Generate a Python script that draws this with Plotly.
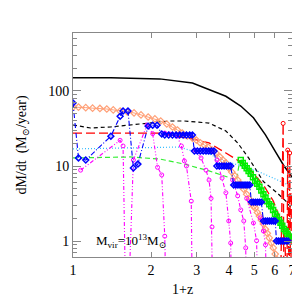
import plotly.graph_objects as go
import math

# ---- data ----
black_x = [1.00, 1.40, 2.16, 2.89, 3.89, 4.44, 4.97, 5.53, 6.08, 6.52, 6.92, 7.0]
black_y = [150, 150, 145, 128, 85, 63, 44, 26, 15, 10, 7.6, 7.0]

bdash_x = [1.00, 1.07, 1.17, 1.40, 1.66, 1.98, 2.36, 2.69, 3.35, 3.89, 4.32, 4.76, 5.43, 6.08, 6.63, 6.92]
bdash_y = [35.2, 34.1, 32.1, 33.2, 35.2, 37.4, 39.8, 39.8, 37.4, 29.3, 20.3, 12.8, 6.2, 4.5, 3.4, 2.8]

red_x = [1.00, 1.40, 2.16, 2.89, 3.35, 3.89, 4.36, 4.88, 5.43, 5.93, 6.30, 6.57, 6.70]
red_y = [27.5, 27.5, 27.5, 22.9, 20.3, 14.9, 11.7, 8.6, 5.6, 3.4, 2.0, 1.1, 0.1]

red2_x = [6.30, 6.47, 6.52, 6.68, 6.74, 6.79, 6.83, 6.86, 6.92, 6.96]
red2_y = [0.1, 37.0, 0.1, 0.1, 16.3, 0.1, 0.1, 14.9, 0.1, 4.0]

cyan_x = [1.00, 1.66, 2.58, 2.81, 3.35, 3.76, 4.36, 5.05, 5.93, 6.92]
cyan_y = [16.9, 17.4, 17.9, 16.3, 14.5, 12.0, 10.3, 8.8, 6.9, 5.4]

gdash_x = [1.00, 1.66, 2.16, 2.69, 3.35, 4.28, 4.40]
gdash_y = [12.8, 13.2, 12.4, 10.6, 8.6, 6.5, 12.0]

lime_x = [4.44, 4.52, 4.60, 4.68, 4.76, 4.85, 4.95, 5.05, 5.14, 5.24, 5.33, 5.43, 5.53,
          5.62, 5.72, 5.82, 5.92, 6.02, 6.12, 6.22, 6.32, 6.42, 6.52, 6.62, 6.72, 6.82, 6.92]
lime_y = [12.0, 11.0, 10.1, 9.3, 8.6, 7.9, 7.1, 6.3, 5.8, 5.3, 4.7, 4.2, 3.8,
          3.4, 3.1, 2.9, 2.6, 2.3, 2.1, 1.9, 1.75, 1.6, 1.45, 1.35, 1.25, 1.15, 1.05]

orange_x = [1.00, 1.05, 1.12, 1.19, 1.27, 1.35, 1.43, 1.52, 1.62, 1.72, 1.83, 1.95, 2.07,
            2.18, 2.30, 2.42, 2.53, 2.64, 2.76, 2.89, 2.99, 3.10, 3.21, 3.32, 3.44, 3.56,
            3.69, 3.79, 3.89, 3.99, 4.10, 4.21, 4.32, 4.44, 4.56, 4.68, 4.80, 4.88, 4.97,
            5.05, 5.15, 5.24, 5.33, 5.43, 5.53, 5.62, 5.72, 5.82, 5.93, 6.03, 6.14]
orange_y = [61, 61, 60, 59, 58.5, 57.5, 56, 54, 52.5, 51, 48, 45, 42.4,
            39.8, 36.3, 33.1, 30.2, 27.5, 25.1, 23.6, 22.2, 20.3, 19.1, 17.9, 16.3, 14.9,
            13.2, 12.0, 11.0, 9.4, 8.3, 7.4, 6.5, 5.7, 4.9, 4.2, 3.6, 3.2, 2.9,
            2.76, 2.4, 2.15, 1.9, 1.69, 1.43, 1.27, 1.10, 0.94, 0.81, 0.67, 0.56]

blue_x = [1.00, 1.05, 1.12, 1.40, 1.52, 1.56, 1.63, 1.71, 1.78, 1.95, 2.03, 2.11, 2.20,
          2.26, 2.34, 2.42, 2.50, 2.58, 2.66, 2.74, 2.82, 2.89,
          2.94, 3.02, 3.10, 3.18, 3.26, 3.34, 3.42, 3.50,
          3.59, 3.67, 3.75, 3.83, 3.91, 3.99, 4.06,
          4.17, 4.25, 4.33, 4.41, 4.49, 4.57, 4.65, 4.73, 4.81,
          4.88, 4.97, 5.06, 5.15, 5.24, 5.33,
          5.43, 5.53, 5.63, 5.73, 5.83, 5.93, 6.03,
          6.10, 6.21, 6.32, 6.43, 6.54, 6.65, 6.76]
blue_y = [69, 12.8, 12.0, 25, 46, 54, 54, 9.4, 10.6, 34, 35, 35, 26.7,
          25.9, 25.9, 25.9, 25.9, 25.9, 25.9, 25.9, 25.9, 25.9,
          15.8, 15.8, 15.8, 15.8, 15.8, 15.8, 15.8, 15.8,
          10.0, 10.0, 10.0, 10.0, 10.0, 10.0, 10.0,
          5.6, 5.6, 5.6, 5.6, 5.6, 5.6, 5.6, 5.6, 5.6,
          3.3, 3.3, 3.3, 3.3, 3.3, 3.3,
          1.85, 1.85, 1.85, 1.85, 1.85, 1.85, 1.85,
          1.0, 1.0, 1.0, 1.0, 1.0, 1.0, 1.0]

# magenta progenitor branches
mag_branches = [
    ([1.07, 1.52, 1.56, 1.60], [8.8, 22.0, 18.5, 0.1]),
    ([1.63, 1.71, 1.93, 2.03, 2.12, 2.20, 2.26, 2.29], [0.1, 12.0, 35.2, 27.0, 9.6, 7.6, 1.16, 0.1]),
    ([2.26, 2.36, 2.51, 2.62, 2.69, 2.74, 2.86, 2.89], [27.5, 26.7, 25.9, 18.5, 11.7, 10.0, 3.4, 0.1]),
    ([2.96, 3.12, 3.26, 3.35, 3.41, 3.44, 3.47], [16.3, 12.8, 8.8, 6.5, 3.7, 1.54, 0.1]),
    ([3.59, 3.76, 3.89, 3.99, 4.06, 4.10], [12.0, 6.9, 4.4, 1.85, 0.94, 0.1]),
    ([4.13, 4.32, 4.44, 4.56, 4.64, 4.68], [6.5, 4.0, 2.6, 1.85, 0.81, 0.1]),
    ([4.68, 4.97, 5.11, 5.19], [3.7, 1.74, 1.01, 0.1]),
    ([5.28, 5.43, 5.53, 5.62], [2.04, 1.36, 0.89, 0.1]),
]

xtick_vals = [1, 2, 3, 4, 5, 6, 7]
ytick_vals = [1, 10, 100]
yminor_vals = [0.7, 0.8, 0.9, 2, 3, 4, 5, 6, 7, 8, 9,
               20, 30, 40, 50, 60, 70, 80, 90, 200, 300, 400, 500]

# ---- figure ----
fig = go.Figure()

fig.add_trace(go.Scatter(x=black_x, y=black_y, mode="lines",
                         line=dict(color="black", width=1.5)))
fig.add_trace(go.Scatter(x=bdash_x, y=bdash_y, mode="lines",
                         line=dict(color="black", width=1.2, dash="4px,3px")))
fig.add_trace(go.Scatter(x=cyan_x, y=cyan_y, mode="lines",
                         line=dict(color="#33bbff", width=1.2, dash="1px,2px")))
fig.add_trace(go.Scatter(x=gdash_x, y=gdash_y, mode="lines",
                         line=dict(color="#33ee33", width=1.2, dash="5px,3px")))
fig.add_trace(go.Scatter(x=red_x, y=red_y, mode="lines",
                         line=dict(color="red", width=1.3, dash="9px,4px")))
fig.add_trace(go.Scatter(x=red2_x, y=red2_y, mode="lines+markers",
                         line=dict(color="red", width=1.3, dash="9px,4px"),
                         marker=dict(symbol="circle-open", size=4, color="red")))
fig.add_trace(go.Scatter(x=orange_x, y=orange_y, mode="lines+markers",
                         line=dict(color="#ffa077", width=1),
                         marker=dict(symbol="diamond-open", size=5, color="#ffa077",
                                     line=dict(width=1.2))))
fig.add_trace(go.Scatter(x=lime_x, y=lime_y, mode="lines+markers",
                         line=dict(color="#00ee00", width=2),
                         marker=dict(symbol="square-open", size=5, color="#00ee00",
                                     line=dict(width=1.5))))
for mx, my in mag_branches:
    fig.add_trace(go.Scatter(x=mx, y=my, mode="lines+markers",
                             line=dict(color="#ff00ff", width=1.1,
                                       dash="4px,2px,1px,2px,1px,2px"),
                             marker=dict(symbol="circle-open", size=4, color="#ff00ff")))
fig.add_trace(go.Scatter(x=blue_x, y=blue_y, mode="lines+markers",
                         line=dict(color="#0000ff", width=1.1, dash="5px,2px,1px,2px"),
                         marker=dict(symbol="diamond-open", size=4.5, color="#0000ff",
                                     line=dict(width=1.5))))

font_family = "Liberation Serif, DejaVu Serif, serif"

fig.update_layout(
    width=300, height=300,
    margin=dict(l=62, r=16, t=25, b=51),
    paper_bgcolor="white", plot_bgcolor="white",
    showlegend=False,
    font=dict(family=font_family, size=14, color="black"),
    xaxis=dict(type="log", range=[0, math.log10(7.0)],
               tickvals=xtick_vals, ticktext=[str(v) for v in xtick_vals],
               ticks="inside", ticklen=5, tickcolor="#888", mirror="ticks",
               showline=True, linecolor="#888", linewidth=1,
               showgrid=False, zeroline=False),
    yaxis=dict(type="log", range=[-0.213, 2.773],
               tickvals=ytick_vals, ticktext=[str(v) for v in ytick_vals],
               ticks="inside", ticklen=8, tickcolor="#888", mirror="ticks",
               showline=True, linecolor="#888", linewidth=1,
               showgrid=False, zeroline=False,
               minor=dict(tickvals=yminor_vals, ticks="inside", ticklen=4,
                          tickcolor="#888", showgrid=False),
               title=dict(text="dM/dt  (M<sub>⊙</sub>/year)", font=dict(size=14), standoff=18)),
    annotations=[
        dict(x=math.log10(1.21), y=0.0, xref="x", yref="y",
             text="M<sub>vir</sub>=10<sup>13</sup>M<sub>⊙</sub>",
             showarrow=False, xanchor="left", yanchor="middle",
             font=dict(size=13, family=font_family)),
        dict(x=0.5, y=-0.143, xref="paper", yref="paper", text="1+z",
             showarrow=False, xanchor="center", yanchor="middle",
             font=dict(size=14, family=font_family)),
    ],
)

fig.write_html("out.html")
